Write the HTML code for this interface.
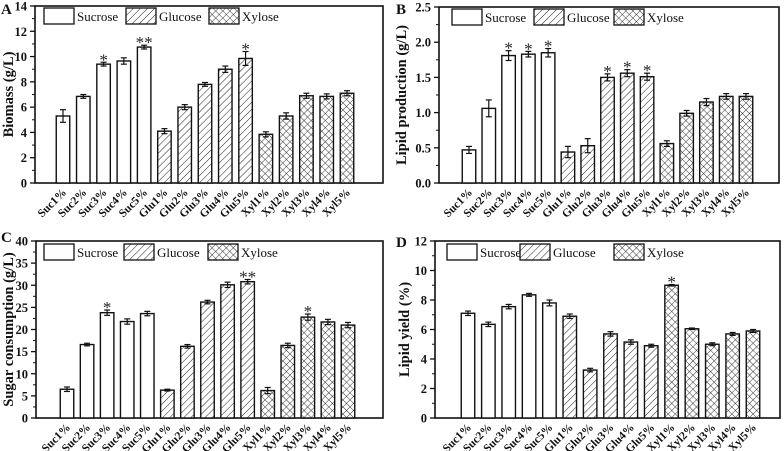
<!DOCTYPE html>
<html><head><meta charset="utf-8">
<style>
html,body{margin:0;padding:0;background:#fff;}
svg{display:block;}
svg text{font-family:"Liberation Serif",serif;}
</style></head>
<body>
<svg id="chart" width="784" height="451" viewBox="0 0 784 451" xmlns="http://www.w3.org/2000/svg">
<defs>
<pattern id="hatch" patternUnits="userSpaceOnUse" width="5" height="5" patternTransform="rotate(45)">
<rect width="5" height="5" fill="#fff"/><line x1="0" y1="0" x2="0" y2="5" stroke="#222" stroke-width="1"/>
</pattern>
<pattern id="cross" patternUnits="userSpaceOnUse" width="5" height="5" patternTransform="rotate(45)">
<rect width="5" height="5" fill="#fff"/><line x1="0" y1="0" x2="0" y2="5" stroke="#222" stroke-width="0.9"/><line x1="0" y1="0" x2="5" y2="0" stroke="#222" stroke-width="0.9"/>
</pattern>
</defs>
</svg>
<script>
var categories = ["Suc1%","Suc2%","Suc3%","Suc4%","Suc5%","Glu1%","Glu2%","Glu3%","Glu4%","Glu5%","Xyl1%","Xyl2%","Xyl3%","Xyl4%","Xyl5%"];
var biomassValues = [5.3,6.85,9.4,9.65,10.75,4.1,6.0,7.8,9.0,9.85,3.85,5.3,6.9,6.85,7.1];
var biomassErrors = [0.5,0.15,0.15,0.25,0.15,0.2,0.2,0.15,0.25,0.55,0.2,0.25,0.2,0.2,0.2];
var biomassStars = ["","","*","","**","","","","","*","","","","",""];
var lipidValues = [0.47,1.06,1.81,1.83,1.85,0.44,0.53,1.5,1.56,1.51,0.56,0.99,1.15,1.23,1.23];
var lipidErrors = [0.05,0.12,0.07,0.04,0.06,0.08,0.1,0.05,0.05,0.05,0.04,0.04,0.05,0.04,0.04];
var lipidStars = ["","","*","*","*","","","*","*","*","","","","",""];
var sugarValues = [6.5,16.6,23.8,21.8,23.6,6.3,16.2,26.2,30.1,30.8,6.2,16.4,22.8,21.7,21.0];
var sugarErrors = [0.5,0.3,0.6,0.6,0.5,0.2,0.4,0.4,0.6,0.5,0.7,0.5,0.7,0.6,0.6];
var sugarStars = ["","","*","","","","","","","**","","","*","",""];
var yieldValues = [7.1,6.35,7.55,8.35,7.8,6.9,3.25,5.7,5.15,4.9,9.0,6.05,5.0,5.7,5.9];
var yieldErrors = [0.15,0.15,0.15,0.1,0.2,0.15,0.12,0.15,0.15,0.1,0.05,0.05,0.1,0.1,0.1];
var yieldStars = ["","","","","","","","","","","*","","","",""];
var biomassTicks = ["0","2","4","6","8","10","12","14"];
var lipidTicks = ["0.0","0.5","1.0","1.5","2.0","2.5"];
var sugarTicks = ["0","5","10","15","20","25","30","35","40"];
var yieldTicks = ["0","2","4","6","8","10","12"];
var legendLabels = ["Sucrose","Glucose","Xylose"];

var NS="http://www.w3.org/2000/svg";
var svg=document.getElementById('chart');
var FF='"Liberation Serif", serif';
function mk(tag,attrs,parent,text){var e=document.createElementNS(NS,tag);for(var k in attrs)e.setAttribute(k,attrs[k]);if(tag==='text')e.setAttribute('font-family',FF);if(text!==undefined)e.textContent=text;(parent||svg).appendChild(e);return e;}
var fills=["#fff","url(#hatch)","url(#cross)"];

function panel(p){
  var g=mk('g',{});
  
  
  var ymax=parseFloat(p.ticks[p.ticks.length-1]);
  function y(v){return p.bottom-(v/ymax)*(p.bottom-p.top);}
  function x(i){return p.c0+i*(p.c1-p.c0)/(categories.length-1);}
  var fr=mk('rect',{x:p.left,y:p.top,width:p.right-p.left,height:p.bottom-p.top,fill:'none',stroke:'#111','stroke-width':1.6},g);
  
  for(var t=0;t<p.ticks.length;t++){
    var v=parseFloat(p.ticks[t]);var yy=y(v);
    mk('line',{x1:p.left-5,x2:p.left,y1:yy,y2:yy,stroke:'#111','stroke-width':1.3},g);
    var tl=mk('text',{x:p.left-8,y:yy+4.5,'text-anchor':'end','font-size':12.5,'font-weight':'bold',fill:'#111'},g,p.ticks[t]);
    
    if(t<p.ticks.length-1){var step=parseFloat(p.ticks[1])-parseFloat(p.ticks[0]);var ym=y(v+step/2);
      mk('line',{x1:p.left-3,x2:p.left,y1:ym,y2:ym,stroke:'#111','stroke-width':1},g);}
  }
  var cy=(p.top+p.bottom)/2;
  var at=mk('text',{x:p.titleX,y:cy,'text-anchor':'middle','font-size':14.5,'font-weight':'bold',fill:'#111',transform:'rotate(-90 '+p.titleX+' '+cy+')'},g,p.title);
  
  var pl=mk('text',{x:p.labelX,y:p.labelY,'font-size':15,'font-weight':'bold',fill:'#111'},g,p.letter);
  
  var bw=13.5;
  for(var i=0;i<categories.length;i++){
    var cx=x(i),v=p.vals[i],e=p.errs[i];
    var b=mk('rect',{x:cx-bw/2,y:y(v),width:bw,height:p.bottom-y(v),fill:fills[Math.floor(i/5)],stroke:'#111','stroke-width':1.4},g);
    
    
    mk('line',{x1:cx,x2:cx,y1:y(v+e),y2:y(v-e),stroke:'#111','stroke-width':1.2},g);
    mk('line',{x1:cx-3,x2:cx+3,y1:y(v+e),y2:y(v+e),stroke:'#111','stroke-width':1.2},g);
    mk('line',{x1:cx-3,x2:cx+3,y1:y(v-e),y2:y(v-e),stroke:'#111','stroke-width':1.2},g);
    if(p.stars[i]){var s=mk('text',{x:cx,y:y(v+e)+3,'text-anchor':'middle','font-size':17,fill:'#222'},g,p.stars[i]);
      }
    var lx=cx+4,ly=p.bottom+10;
    var xl=mk('text',{x:lx,y:ly,'text-anchor':'end','font-size':11.5,'font-weight':'bold',fill:'#111',transform:'rotate(-45 '+lx+' '+ly+')'},g,categories[i]);
    
  }
  var lxs=p.legendX;
  for(var k=0;k<3;k++){
    var r=mk('rect',{x:lxs[k],y:p.legendY,width:30,height:16,fill:fills[k],stroke:'#111','stroke-width':1.3},g);
    
    var lt=mk('text',{x:lxs[k]+33,y:p.legendY+13,'font-size':13,fill:'#111'},g,legendLabels[k]);
    
  }
}
panel({name:'panel-a-biomass',letter:'A',labelX:1,labelY:14,left:35,right:383,top:6,bottom:183,c0:63,c1:347,ticks:biomassTicks,vals:biomassValues,errs:biomassErrors,stars:biomassStars,title:'Biomass (g/L)',titleX:13,legendX:[44,126,209],legendY:8});
panel({name:'panel-b-lipid-production',letter:'B',labelX:396,labelY:14,left:439,right:779,top:7,bottom:183,c0:469,c1:746,ticks:lipidTicks,vals:lipidValues,errs:lipidErrors,stars:lipidStars,title:'Lipid production (g/L)',titleX:406,legendX:[452,534,614],legendY:9});
panel({name:'panel-c-sugar-consumption',letter:'C',labelX:1,labelY:242,left:36,right:383,top:241,bottom:418,c0:67,c1:348,ticks:sugarTicks,vals:sugarValues,errs:sugarErrors,stars:sugarStars,title:'Sugar consumption (g/L)',titleX:13,legendX:[44,124,208],legendY:244});
panel({name:'panel-d-lipid-yield',letter:'D',labelX:396,labelY:247,left:435,right:780,top:241,bottom:418,c0:468,c1:753,ticks:yieldTicks,vals:yieldValues,errs:yieldErrors,stars:yieldStars,title:'Lipid yield (%)',titleX:409,legendX:[447,520,614],legendY:244});
</script>
</body></html>
